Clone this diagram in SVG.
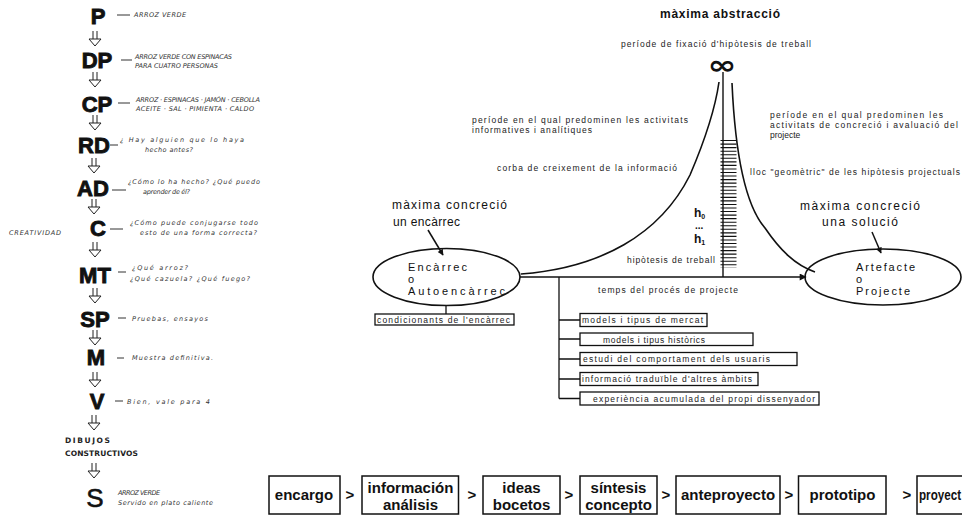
<svg xmlns="http://www.w3.org/2000/svg" width="962" height="517" viewBox="0 0 962 517">
<defs>
<marker id="ah" viewBox="0 0 10 10" refX="9" refY="5" markerWidth="7" markerHeight="6" orient="auto" markerUnits="userSpaceOnUse">
<path d="M0,0 L10,5 L0,10 Z" fill="#111"/>
</marker>
<marker id="ah2" viewBox="0 0 10 10" refX="9" refY="5" markerWidth="9" markerHeight="7" orient="auto" markerUnits="userSpaceOnUse">
<path d="M0,0 L10,5 L0,10 Z" fill="#111"/>
</marker>
<g id="darr">
<path d="M-2,0 V8 M2,0 V8" stroke="#222" stroke-width="1" fill="none"/>
<path d="M-6,8 H6 L0,15 Z" stroke="#222" stroke-width="1" fill="#fff"/>
</g>
</defs>
<style>
.big{font-family:"Liberation Sans",Arial,sans-serif;font-weight:bold;font-size:22px;text-anchor:middle;fill:#111;stroke:#111;stroke-width:0.9}
.hw{font-family:"DejaVu Sans",sans-serif;font-style:italic;font-size:6.5px;fill:#333}
.hwb{font-family:"DejaVu Sans",sans-serif;font-weight:bold;font-size:7.5px;fill:#222}
.dash{stroke:#333;stroke-width:1}
.t{font-family:"Liberation Sans",Arial,sans-serif;font-size:8.5px;fill:#222}
.tm{font-family:"Liberation Sans",Arial,sans-serif;font-size:12px;fill:#111}
.te{font-family:"Liberation Sans",Arial,sans-serif;font-size:11px;fill:#111}
.ln{stroke:#111;stroke-width:1.6;fill:none}
.bx{stroke:#111;stroke-width:1.3;fill:#fff}
.fl{font-family:"Liberation Sans",Arial,sans-serif;font-weight:bold;font-size:15px;fill:#111;text-anchor:middle}
.gt{font-family:"Liberation Sans",Arial,sans-serif;font-weight:bold;font-size:15px;fill:#111;text-anchor:middle}
.fb{stroke:#111;stroke-width:1.5;fill:#fff}
</style>
<rect width="962" height="517" fill="#fff"/>

<!-- LEFT COLUMN -->
<g id="left-column">
<g id="step-P"><text class="big" x="98" y="24">P</text><line class="dash" x1="117" y1="15" x2="130" y2="15"/><text class="hw" x="134" y="17" textLength="52">ARROZ VERDE</text></g>
<use href="#darr" x="95" y="31"/>
<g id="step-DP"><text class="big" x="97" y="68">DP</text><line class="dash" x1="121" y1="60" x2="132" y2="60"/><text class="hw" x="135" y="59" textLength="97">ARROZ VERDE CON ESPINACAS</text><text class="hw" x="135" y="68" textLength="83">PARA CUATRO PERSONAS</text></g>
<use href="#darr" x="95" y="72"/>
<g id="step-CP"><text class="big" x="97" y="112">CP</text><line class="dash" x1="118" y1="103" x2="130" y2="103"/><text class="hw" x="136" y="102" textLength="124">ARROZ · ESPINACAS · JAMÓN · CEBOLLA</text><text class="hw" x="136" y="111" textLength="118">ACEITE · SAL · PIMIENTA · CALDO</text></g>
<use href="#darr" x="95" y="115"/>
<g id="step-RD"><text class="big" x="94" y="153">RD</text><line class="dash" x1="110" y1="145" x2="118" y2="145"/><text class="hw" x="120" y="142" textLength="124">¿ Hay alguien que lo haya</text><text class="hw" x="145" y="152" textLength="48">hecho antes?</text></g>
<use href="#darr" x="94" y="158"/>
<g id="step-AD"><text class="big" x="93" y="196">AD</text><line class="dash" x1="112" y1="190" x2="126" y2="190"/><text class="hw" x="128" y="184" textLength="132">¿Cómo lo ha hecho? ¿Qué puedo</text><text class="hw" x="143" y="194" textLength="47">aprender de él?</text></g>
<use href="#darr" x="94" y="199"/>
<g id="step-C"><text class="big" x="98" y="236">C</text><line class="dash" x1="110" y1="229" x2="123" y2="229"/><text class="hw" x="130" y="225" textLength="128">¿Cómo puede conjugarse todo</text><text class="hw" x="140" y="235" textLength="117">esto de una forma correcta?</text><text class="hw" x="9" y="235" textLength="52">CREATIVIDAD</text></g>
<use href="#darr" x="95" y="242"/>
<g id="step-MT"><text class="big" x="95" y="283">MT</text><line class="dash" x1="118" y1="272" x2="126" y2="272"/><text class="hw" x="132" y="270" textLength="56">¿Qué arroz?</text><text class="hw" x="130" y="281" textLength="120">¿Qué cazuela? ¿Qué fuego?</text></g>
<use href="#darr" x="95" y="288"/>
<g id="step-SP"><text class="big" x="95" y="327">SP</text><line class="dash" x1="118" y1="318" x2="126" y2="318"/><text class="hw" x="132" y="321" textLength="76">Pruebas, ensayos</text></g>
<use href="#darr" x="95" y="330"/>
<g id="step-M"><text class="big" x="96" y="365">M</text><line class="dash" x1="117" y1="358" x2="124" y2="358"/><text class="hw" x="132" y="360" textLength="81">Muestra definitiva.</text></g>
<use href="#darr" x="95" y="372"/>
<g id="step-V"><text class="big" x="97" y="409">V</text><line class="dash" x1="115" y1="401" x2="123" y2="401"/><text class="hw" x="127" y="404" textLength="83">Bien, vale para 4</text></g>
<use href="#darr" x="94" y="415"/>
<g id="step-DC"><text class="hwb" x="65" y="443" textLength="45">DIBUJOS</text><text class="hwb" x="65" y="456" textLength="73">CONSTRUCTIVOS</text></g>
<use href="#darr" x="94" y="463"/>
<g id="step-S"><text x="95" y="507" style="font-family:'Liberation Sans',Arial,sans-serif;font-size:26px;text-anchor:middle;fill:#111;stroke:#111;stroke-width:0.6">S</text><text class="hw" x="118" y="495" textLength="42">ARROZ VERDE</text><text class="hw" x="118" y="505" textLength="95">Servido en plato caliente</text></g>
</g>

<!-- RIGHT DIAGRAM -->
<g id="connectors">
<path class="ln" d="M521,274 C600,268 660,235 690,175 C705,140 715,110 719,82"/>
<path class="ln" d="M732,83 C735,150 745,205 765,228 C780,250 795,265 815,272"/>
<line x1="723" y1="72" x2="723" y2="277" stroke="#111" stroke-width="1.4"/>
<line x1="728.5" y1="140" x2="728.5" y2="268" stroke="#111" stroke-width="16" stroke-dasharray="1.1 2.45"/>
<line x1="520" y1="277" x2="806" y2="277" stroke="#111" stroke-width="1.5" marker-end="url(#ah2)"/>
<path d="M559,277 V398.5 M559,320 H580 M559,339 H580 M559,359 H580 M559,379 H580 M559,398.5 H580" stroke="#111" stroke-width="1.3" fill="none"/>
<line x1="446" y1="305" x2="446" y2="314" stroke="#111" stroke-width="1.3"/>
<line x1="428" y1="230" x2="443" y2="255" stroke="#111" stroke-width="1.5" marker-end="url(#ah)"/>
<line x1="872" y1="232" x2="881" y2="253" stroke="#111" stroke-width="1.5" marker-end="url(#ah)"/>
</g>

<g id="title">
<text class="tm" x="660" y="18" textLength="120" style="font-weight:bold">màxima abstracció</text>
<text class="t" x="621" y="47" textLength="190">període de fixació d'hipòtesis de treball</text>
<text x="722" y="74" textLength="29" lengthAdjust="spacingAndGlyphs" style="font-family:'DejaVu Sans',sans-serif;font-size:26px;font-weight:bold;text-anchor:middle;fill:#111">∞</text>
</g>
<g id="labels-left">
<text class="t" x="472" y="123" textLength="216">període en el qual predominen les activitats</text>
<text class="t" x="472" y="133" textLength="120">informatives i analítiques</text>
<text class="t" x="497" y="171" textLength="180">corba de creixement de la informació</text>
</g>
<g id="labels-right">
<text class="t" x="770" y="118" textLength="173">període en el qual predominen les</text>
<text class="t" x="770" y="128" textLength="188">activitats de concreció i avaluació del</text>
<text class="t" x="770" y="138">projecte</text>
<text class="t" x="750" y="175" textLength="210">lloc "geomètric" de les hipòtesis projectuals</text>
</g>
<g id="hypotheses">
<text x="694" y="217" style="font-family:'Liberation Sans',Arial,sans-serif;font-size:12px;font-weight:bold;fill:#111">h<tspan font-size="7" dy="2">0</tspan></text>
<text x="695" y="229" style="font-family:'Liberation Sans',Arial,sans-serif;font-size:10px;font-weight:bold;fill:#111">...</text>
<text x="694" y="243" style="font-family:'Liberation Sans',Arial,sans-serif;font-size:12px;font-weight:bold;fill:#111">h<tspan font-size="7" dy="2">1</tspan></text>
<text class="t" x="627" y="263" textLength="88">hipòtesis de treball</text>
<text class="t" x="598" y="293" textLength="140">temps del procés de projecte</text>
</g>

<g id="node-encarrec">
<text class="tm" x="392" y="209" textLength="115">màxima concreció</text>
<text class="tm" x="393" y="226" textLength="67">un encàrrec</text>
<ellipse cx="446.5" cy="277" rx="73.5" ry="28.5" class="ln"/>
<text class="te" x="408" y="271" textLength="59">Encàrrec</text>
<text class="te" x="408" y="283">o</text>
<text class="te" x="408" y="295" textLength="97">Autoencàrrec</text>
</g>
<g id="node-condicionants">
<rect class="bx" x="375" y="314" width="139" height="11"/>
<text class="t" x="377" y="322.5" textLength="133">condicionants de l'encàrrec</text>
</g>
<g id="node-artefacte">
<text class="tm" x="800" y="210" textLength="120">màxima concreció</text>
<text class="tm" x="822" y="226" textLength="76">una solució</text>
<ellipse cx="883" cy="277" rx="78" ry="28" class="ln"/>
<text class="te" x="856" y="271" textLength="59">Artefacte</text>
<text class="te" x="856" y="283">o</text>
<text class="te" x="856" y="295" textLength="54">Projecte</text>
</g>
<g id="node-box1"><rect class="bx" x="580" y="313.5" width="127" height="13"/><text class="t" x="582" y="323" textLength="121">models i tipus de mercat</text></g>
<g id="node-box2"><rect class="bx" x="580" y="333" width="173" height="12.5"/><text class="t" x="603" y="342.5" textLength="102">models i tipus històrics</text></g>
<g id="node-box3"><rect class="bx" x="580" y="352.5" width="217" height="13"/><text class="t" x="583" y="362" textLength="187">estudi del comportament dels usuaris</text></g>
<g id="node-box4"><rect class="bx" x="580" y="372.5" width="178" height="13"/><text class="t" x="582" y="382" textLength="170">informació traduïble d'altres àmbits</text></g>
<g id="node-box5"><rect class="bx" x="580" y="392" width="239" height="13"/><text class="t" x="593" y="401.5" textLength="222">experiència acumulada del propi dissenyador</text></g>

<!-- BOTTOM FLOW -->
<g id="flow">
<g id="f-encargo"><rect class="fb" x="269" y="476" width="71" height="38"/><text class="fl" x="304" y="500">encargo</text></g>
<text class="gt" x="350" y="500">&gt;</text>
<g id="f-informacion"><rect class="fb" x="362" y="476" width="96.5" height="38"/><text class="fl" x="410.5" y="493">información</text><text class="fl" x="410.5" y="510">análisis</text></g>
<text class="gt" x="472" y="500">&gt;</text>
<g id="f-ideas"><rect class="fb" x="483" y="476" width="77" height="38"/><text class="fl" x="521.5" y="493">ideas</text><text class="fl" x="521.5" y="510">bocetos</text></g>
<text class="gt" x="569" y="500">&gt;</text>
<g id="f-sintesis"><rect class="fb" x="580" y="476" width="77" height="38"/><text class="fl" x="618.5" y="493">síntesis</text><text class="fl" x="618.5" y="510">concepto</text></g>
<text class="gt" x="666" y="500">&gt;</text>
<g id="f-anteproyecto"><rect class="fb" x="676" y="476" width="104" height="38"/><text class="fl" x="728" y="500">anteproyecto</text></g>
<text class="gt" x="789" y="500">&gt;</text>
<g id="f-prototipo"><rect class="fb" x="798.5" y="476" width="87.5" height="38"/><text class="fl" x="842.5" y="500">prototipo</text></g>
<text class="gt" x="907" y="500">&gt;</text>
<g id="f-proyecto"><rect class="fb" x="917" y="476" width="60" height="38"/><text class="fl" x="919" y="500" style="text-anchor:start" textLength="42" lengthAdjust="spacingAndGlyphs">proyect</text></g>
</g>
</svg>
